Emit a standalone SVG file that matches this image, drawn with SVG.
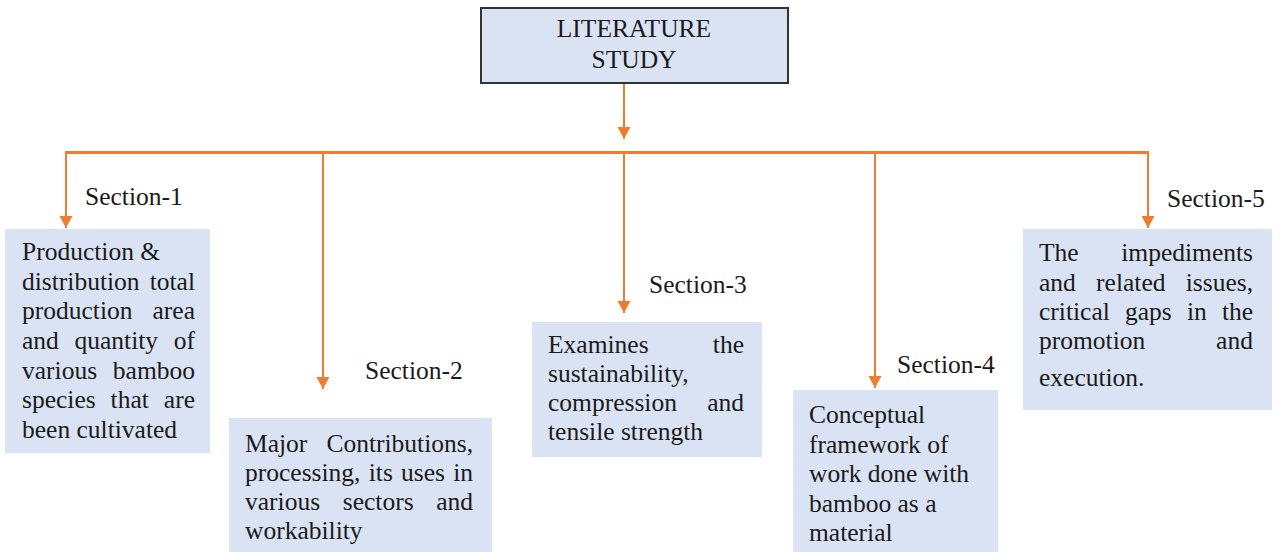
<svg xmlns="http://www.w3.org/2000/svg" width="1280" height="552" viewBox="0 0 1280 552">
<style>
.t{font-family:"Liberation Serif","Times New Roman",serif;font-size:25.5px;fill:#1a1a1a}
.box{fill:#dae3f3}
.c{stroke:#ed7d31;stroke-width:2;fill:none}
</style>
<defs>
<marker id="ah" markerUnits="userSpaceOnUse" markerWidth="14" markerHeight="14" refX="12" refY="6.5" orient="auto">
<path d="M0,0 L12,6.5 L0,13 Z" fill="#ed7d31"/>
</marker>
</defs>
<rect width="1280" height="552" fill="#ffffff"/>
<g id="connectors">
<line class="c" x1="624" y1="83" x2="624" y2="139" marker-end="url(#ah)"/>
<line x1="65" y1="152.5" x2="1149" y2="152.5" stroke="#ed7d31" stroke-width="3"/>
<line class="c" x1="66" y1="152" x2="66" y2="228" marker-end="url(#ah)"/>
<line class="c" x1="323" y1="152" x2="323" y2="389" marker-end="url(#ah)"/>
<line class="c" x1="624" y1="152" x2="624" y2="313" marker-end="url(#ah)"/>
<line class="c" x1="875" y1="152" x2="875" y2="388" marker-end="url(#ah)"/>
<line class="c" x1="1148" y1="152" x2="1148" y2="228" marker-end="url(#ah)"/>
<text class="t" x="85" y="205">Section-1</text>
<text class="t" x="365" y="379">Section-2</text>
<text class="t" x="649" y="293">Section-3</text>
<text class="t" x="897" y="373">Section-4</text>
<text class="t" x="1167" y="207">Section-5</text>
</g>
<g id="literature-study">
<rect x="481" y="8" width="307" height="75" fill="#dae3f3" stroke="#333" stroke-width="2"/>
<text class="t" x="634" y="37" text-anchor="middle">LITERATURE</text>
<text class="t" x="634" y="68" text-anchor="middle">STUDY</text>
</g>
<g id="section-1">
<rect class="box" x="5" y="229" width="205" height="224"/>
<text class="t" x="22" y="260">Production &amp;</text>
<text class="t" x="22" y="289.7" word-spacing="3.7">distribution total</text>
<text class="t" x="22" y="319.3" word-spacing="13.7">production area</text>
<text class="t" x="22" y="349" word-spacing="9.3">and quantity of</text>
<text class="t" x="22" y="378.7" word-spacing="9.4">various bamboo</text>
<text class="t" x="22" y="408.3" word-spacing="8.6">species that are</text>
<text class="t" x="22" y="438">been cultivated</text>
</g>
<g id="section-2">
<rect class="box" x="229" y="418" width="263" height="134"/>
<text class="t" x="245" y="452" word-spacing="12.7">Major Contributions,</text>
<text class="t" x="245" y="481" word-spacing="1.9">processing, its uses in</text>
<text class="t" x="245" y="510" word-spacing="16.3">various sectors and</text>
<text class="t" x="245" y="539">workability</text>
</g>
<g id="section-3">
<rect class="box" x="532" y="322" width="230" height="135"/>
<text class="t" x="548" y="353" word-spacing="57.9">Examines the</text>
<text class="t" x="548" y="382">sustainability,</text>
<text class="t" x="548" y="411" word-spacing="23.9">compression and</text>
<text class="t" x="548" y="440">tensile strength</text>
</g>
<g id="section-4">
<rect class="box" x="793" y="390" width="205" height="162"/>
<text class="t" x="809" y="423">Conceptual</text>
<text class="t" x="809" y="452.5">framework of</text>
<text class="t" x="809" y="482">work done with</text>
<text class="t" x="809" y="511.5">bamboo as a</text>
<text class="t" x="809" y="541">material</text>
</g>
<g id="section-5">
<rect class="box" x="1023" y="229" width="249" height="181"/>
<text class="t" x="1039" y="261" word-spacing="36.2">The impediments</text>
<text class="t" x="1039" y="291" word-spacing="13.9">and related issues,</text>
<text class="t" x="1039" y="320" word-spacing="8.8">critical gaps in the</text>
<text class="t" x="1039" y="349" word-spacing="64.5">promotion and</text>
<text class="t" x="1039" y="386">execution.</text>
</g>
</svg>
